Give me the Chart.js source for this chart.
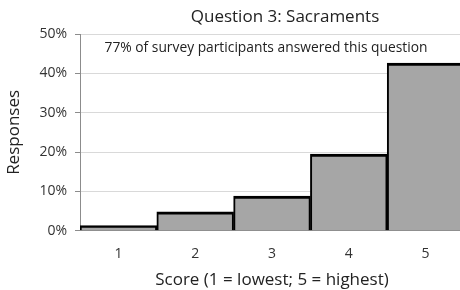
<!DOCTYPE html>
<html>
<head>
<meta charset="utf-8">
<script src="https://cdn.jsdelivr.net/npm/chart.js@4/dist/chart.umd.min.js"></script>
<style>
  html, body { margin: 0; padding: 0; background: #fff; overflow: hidden; }
  #wrap { width: 464px; height: 290px; }
</style>
</head>
<body>
<div id="wrap"><canvas id="chart"></canvas></div>
<script>
var scores = ["1", "2", "3", "4", "5"];
var responses = [1.3, 4.8, 8.8, 19.5, 42.6];
var yTicks = [0, 10, 20, 30, 40, 50];
var titleText = "Question 3: Sacraments";
var noteText = "77% of survey participants answered this question";

var fontName = "'Open Sans', sans-serif";

// title and note are drawn by hand so they sit where the original has them
var textPlugin = {
	id: "texts",
	afterDraw: function(chart) {
		var ctx = chart.ctx;
		var area = chart.chartArea;
		ctx.save();
		ctx.fillStyle = "#222";
		ctx.textAlign = "center";
		ctx.textBaseline = "middle";
		ctx.font = "17px " + fontName;
		ctx.fillText(titleText, 285, area.top - 17);
		ctx.font = "13.8px " + fontName;
		ctx.fillText(noteText, 266, area.top + 14);
		ctx.restore();
	}
};

var ctx = document.getElementById("chart").getContext("2d");
new Chart(ctx, {
	type: "bar",
	data: {
		labels: scores,
		datasets: [{
			data: responses,
			backgroundColor: "#a6a6a6",
			borderColor: "#000",
			borderWidth: { top: 3, left: 2, right: 2, bottom: 0 },
			barPercentage: 1,
			categoryPercentage: 1
		}]
	},
	options: {
		responsive: true,
		maintainAspectRatio: false,
		animation: false,
		layout: { padding: { top: 34, right: 0, left: 4, bottom: 0 } },
		plugins: {
			legend: { display: false },
			tooltip: { enabled: false },
			title: { display: false }
		},
		scales: {
			x: {
				grid: { display: false },
				border: { color: "#8c8c8c", width: 1 },
				ticks: { color: "#333", font: { family: fontName, size: 14 }, padding: 7 },
				title: {
					display: true,
					text: "Score (1 = lowest; 5 = highest)",
					color: "#222",
					font: { family: fontName, size: 17 },
					padding: { top: 0, bottom: 0 }
				}
			},
			y: {
				min: 0,
				max: 50,
				afterBuildTicks: function(axis) {
					axis.ticks = yTicks.map(function(v) { return { value: v }; });
				},
				afterFit: function(axis) { axis.width = 76; },
				grid: { color: "#d9d9d9", tickLength: 5, tickColor: "#8c8c8c" },
				border: { color: "#8c8c8c", width: 1 },
				ticks: {
					color: "#333",
					font: { family: fontName, size: 14 },
					padding: 8,
					callback: function(v) { return v + "%"; }
				},
				title: {
					display: true,
					text: "Responses",
					color: "#222",
					font: { family: fontName, size: 17 },
					padding: { top: 0, bottom: 4 }
				}
			}
		}
	},
	plugins: [textPlugin]
});
</script>
</body>
</html>
